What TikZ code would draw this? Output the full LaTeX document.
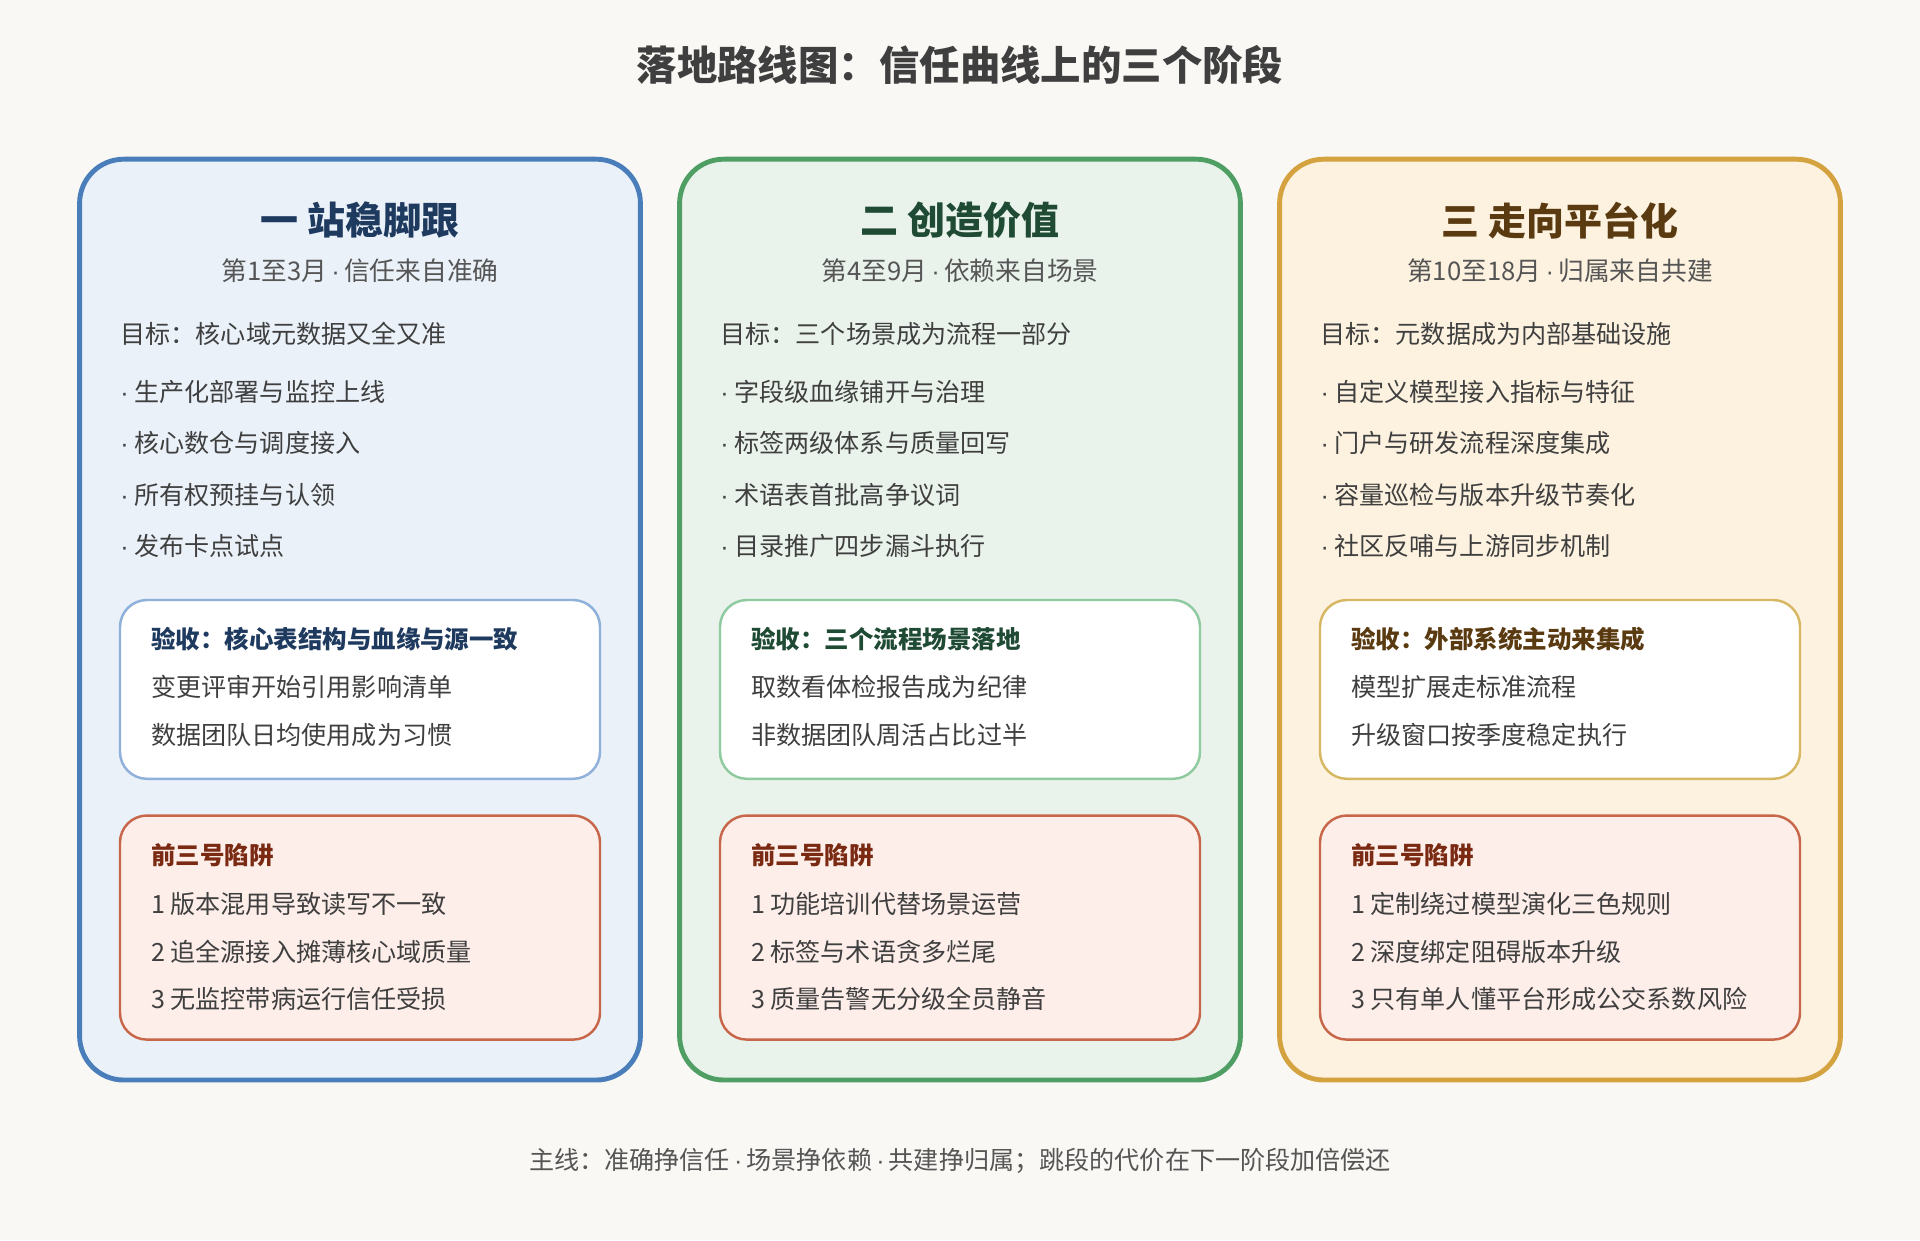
\documentclass[tikz,border=0pt]{standalone}
\usepackage{fontspec}
\setmainfont{Noto Sans CJK SC}
\newfontfamily\latn{Liberation Sans}
\newcommand\md{{\latn\,·\,}}
\definecolor{bgc}{HTML}{FAF8F5}
\definecolor{txt}{HTML}{3F3F3F}
\definecolor{subt}{HTML}{555555}
\definecolor{bdA}{HTML}{4A7EBB}\definecolor{fiA}{HTML}{EAF1F9}\definecolor{inA}{HTML}{8FB0D8}\definecolor{hdA}{HTML}{1F3A5F}
\definecolor{bdB}{HTML}{4F9E64}\definecolor{fiB}{HTML}{E9F3EC}\definecolor{inB}{HTML}{8FCB9F}\definecolor{hdB}{HTML}{1F4A33}
\definecolor{bdC}{HTML}{D4A23F}\definecolor{fiC}{HTML}{FDF2E0}\definecolor{inC}{HTML}{D7B862}\definecolor{hdC}{HTML}{5A3A10}
\definecolor{pitbd}{HTML}{C8664A}\definecolor{pitfi}{HTML}{FDEEEA}\definecolor{pithd}{HTML}{7A2A12}
\tikzset{
  stage/.style={rounded corners=18bp, line width=2bp},
  inbox/.style={rounded corners=11bp, line width=1bp},
  head/.style={font=\fontsize{15.5bp}{18bp}\selectfont\bfseries},
  sub/.style={font=\fontsize{10.5bp}{13bp}\selectfont, text=subt},
  line/.style={anchor=west, font=\fontsize{10.25bp}{13bp}\selectfont, text=txt, inner sep=0pt},
  boxhd/.style={line, font=\fontsize{10bp}{13bp}\selectfont\bfseries}
}
\begin{document}
\begin{tikzpicture}[x=0.5bp, y=-0.5bp]
\fill[bgc] (0,0) rectangle (1568,1013);
\useasboundingbox (0,0) rectangle (1568,1013);

\node[font=\fontsize{16.5bp}{20bp}\selectfont\bfseries, text=txt] (title) at (784,53) {落地路线图：信任曲线上的三个阶段};

% the three stages
\foreach \i/\x/\hd/\sb/\gl/\ba/\bb/\bc/\bd in {
  A/65/一 站稳脚跟/第1至3月\md{}信任来自准确/目标：核心域元数据又全又准/生产化部署与监控上线/核心数仓与调度接入/所有权预挂与认领/发布卡点试点,
  B/555/二 创造价值/第4至9月\md{}依赖来自场景/目标：三个场景成为流程一部分/字段级血缘铺开与治理/标签两级体系与质量回写/术语表首批高争议词/目录推广四步漏斗执行,
  C/1045/三 走向平台化/第10至18月\md{}归属来自共建/目标：元数据成为内部基础设施/自定义模型接入指标与特征/门户与研发流程深度集成/容量巡检与版本升级节奏化/社区反哺与上游同步机制}{
  \draw[stage, draw=bd\i, fill=fi\i] (\x,130) rectangle ++(458,752);
  \node[head, text=hd\i] (hd\i) at (\x+229,180) {\hd};
  \node[sub] (sb\i) at (\x+229,221) {\sb};
  \node[line] (gl\i) at (\x+33,273) {\gl};
  \node[line] (ba\i) at (\x+33,320) {{\latn·} \ba};
  \node[line] (bb\i) at (\x+33,362) {{\latn·} \bb};
  \node[line] (bc\i) at (\x+33,404) {{\latn·} \bc};
  \node[line] (bd\i) at (\x+33,446) {{\latn·} \bd};
}

% acceptance and pitfall boxes
\foreach \i/\x/\aa/\ab/\ac/\pa/\pb/\pc in {
  A/65/验收：核心表结构与血缘与源一致/变更评审开始引用影响清单/数据团队日均使用成为习惯/1 版本混用导致读写不一致/2 追全源接入摊薄核心域质量/3 无监控带病运行信任受损,
  B/555/验收：三个流程场景落地/取数看体检报告成为纪律/非数据团队周活占比过半/1 功能培训代替场景运营/2 标签与术语贪多烂尾/3 质量告警无分级全员静音,
  C/1045/验收：外部系统主动来集成/模型扩展走标准流程/升级窗口按季度稳定执行/1 定制绕过模型演化三色规则/2 深度绑定阻碍版本升级/3 只有单人懂平台形成公交系数风险}{
  \draw[inbox, draw=in\i, fill=white] (\x+33,490) rectangle ++(392,146);
  \node[boxhd, text=hd\i] (aa\i) at (\x+58,522) {\aa};
  \node[line] (ab\i) at (\x+58,561) {\ab};
  \node[line] (ac\i) at (\x+58,600) {\ac};
  \draw[inbox, draw=pitbd, fill=pitfi] (\x+33,666) rectangle ++(392,183);
  \node[boxhd, text=pithd] (ph\i) at (\x+58,698) {前三号陷阱};
  \node[line] (pa\i) at (\x+58,738) {\pa};
  \node[line] (pb\i) at (\x+58,777) {\pb};
  \node[line] (pc\i) at (\x+58,816) {\pc};
}

\node[font=\fontsize{10.25bp}{13bp}\selectfont, text=subt] (foot) at (784,948) {主线：准确挣信任\md{}场景挣依赖\md{}共建挣归属；跳段的代价在下一阶段加倍偿还};
\end{tikzpicture}
\end{document}
